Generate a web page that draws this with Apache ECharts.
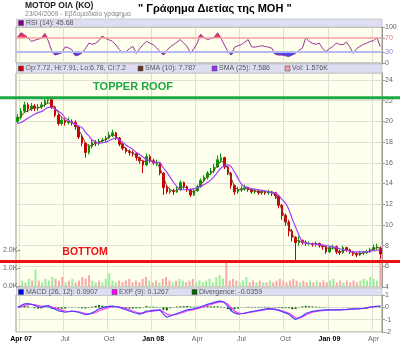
<!DOCTYPE html>
<html><head><meta charset="utf-8">
<script src="https://cdn.jsdelivr.net/npm/echarts@6/dist/echarts.min.js"></script>
<style>html,body{margin:0;padding:0;background:#fff}#c{width:400px;height:351px}</style>
</head><body><div id="c"></div>
<script>
// ---- data ----
const startDate = '2007-03-26';   // first weekly bar (Monday)
const nWeeks = 108;
const quarterIdx = [1, 14, 27, 40, 53, 66, 79, 92, 105];
const quarterText = ['Apr 07', 'Jul', 'Oct', 'Jan 08', 'Apr', 'Jul', 'Oct', 'Jan 09', 'Apr'];
const boldText = ['Apr 07', 'Jan 08', 'Jan 09'];
const priceTicks = [4, 6, 8, 10, 12, 14, 16, 18, 20, 22, 24];
const rsiTicks = [0, 30, 70, 100];
const volTicks = [0, 1, 2];
const macdTicks = [-2, -1, 0, 1];
const roofPrice = 22.29;
const bottomPrice = 6.46;
// weekly candles: [open, close, low, high]
const candles = [
[20.0,20.4,19.8,20.7],[20.4,21.0,20.2,21.3],[21.0,21.6,20.8,21.9],[21.6,21.2,20.9,21.8],[21.2,21.5,21.0,21.8],
[21.5,21.3,21.0,21.7],[21.3,21.4,21.0,21.7],[21.4,21.6,21.2,21.9],[21.6,22.0,21.4,22.3],[22.0,22.1,21.7,22.4],
[22.1,21.4,21.2,22.2],[21.4,20.6,20.4,21.5],[20.6,19.8,19.6,20.8],[19.8,20.1,19.6,20.4],[20.1,19.9,19.6,20.3],
[19.9,20.0,19.7,20.4],[20.0,19.9,19.6,20.2],[19.9,19.5,19.2,20.1],[19.5,18.5,18.3,19.6],[18.5,17.9,17.6,18.7],
[17.9,17.0,16.5,18.0],[17.0,17.6,16.8,17.8],[17.6,18.0,17.4,18.3],[18.0,17.9,17.6,18.2],[17.9,18.1,17.7,18.3],
[18.1,18.2,17.9,18.4],[18.2,18.4,18.0,18.6],[18.4,18.7,18.3,19.0],[18.7,18.9,18.5,19.2],[18.9,18.4,18.2,19.0],
[18.4,17.8,17.6,18.5],[17.8,17.4,17.2,17.9],[17.4,17.1,16.9,17.5],[17.1,17.0,16.7,17.3],[17.0,16.9,16.6,17.2],
[16.9,16.5,16.2,17.0],[16.5,16.2,15.9,16.6],[16.2,15.8,15.0,16.3],[15.8,16.6,15.7,16.9],[16.6,16.2,16.0,16.8],
[16.2,16.0,15.8,16.4],[16.0,16.0,15.7,16.3],[16.0,15.0,14.8,16.1],[15.0,13.6,12.9,15.1],[13.6,13.2,13.0,13.8],
[13.2,13.3,13.0,13.6],[13.3,13.2,12.9,13.5],[13.2,13.4,13.1,13.7],[13.4,14.1,13.3,14.3],[14.1,13.7,13.5,14.2],
[13.7,13.4,13.2,13.8],[13.4,12.9,12.7,13.5],[12.9,13.3,12.8,13.5],[13.3,13.7,13.2,13.9],[13.7,14.3,13.6,14.5],
[14.3,14.6,14.1,14.8],[14.6,15.0,14.4,15.2],[15.0,15.2,14.8,15.5],[15.2,15.6,15.0,15.9],[15.6,16.3,15.5,16.7],
[16.3,16.5,16.0,16.9],[16.5,15.6,15.4,16.6],[15.6,15.0,14.8,15.7],[15.0,13.8,13.5,15.1],[13.8,13.2,12.9,13.9],
[13.2,13.4,13.0,13.7],[13.4,13.5,13.2,13.8],[13.5,13.6,13.3,13.9],[13.6,13.4,13.2,13.7],[13.4,13.2,13.0,13.5],
[13.2,13.3,13.0,13.5],[13.3,13.1,12.9,13.4],[13.1,13.2,12.9,13.4],[13.2,13.1,12.9,13.3],[13.1,13.2,12.9,13.4],
[13.2,13.1,12.8,13.3],[13.1,12.8,12.5,13.2],[12.8,11.9,11.6,12.9],[11.9,10.9,10.5,12.0],[10.9,10.3,9.9,11.1],
[10.3,9.4,8.9,10.5],[9.4,8.8,8.4,9.6],[8.8,8.3,6.6,8.9],[8.3,8.5,8.0,8.9],[8.5,8.3,8.1,8.6],
[8.3,8.2,8.0,8.5],[8.2,8.2,8.0,8.4],[8.2,8.1,7.9,8.3],[8.1,8.2,7.9,8.4],[8.2,8.0,7.8,8.3],
[8.0,7.9,7.6,8.1],[7.9,7.4,7.2,8.0],[7.4,7.8,7.3,8.0],[7.8,7.9,7.6,8.1],[7.9,7.4,7.2,8.0],
[7.4,7.3,7.1,7.6],[7.3,7.8,7.2,8.0],[7.8,7.6,7.4,7.9],[7.6,7.4,7.2,7.7],[7.4,7.2,7.0,7.5],
[7.2,7.1,6.9,7.4],[7.1,7.3,7.0,7.5],[7.3,7.3,7.1,7.5],[7.3,7.4,7.2,7.6],[7.4,7.6,7.3,7.8],
[7.6,7.8,7.5,8.1],[7.8,7.9,7.6,8.2],[7.72,7.2,6.78,7.91]
];
const volume = [
0.3,0.2,0.4,0.3,0.9,0.3,0.2,0.4,0.3,0.5, 0.4,0.3,0.5,0.2,0.3,0.4,0.2,0.3,0.5,0.4,
0.6,0.3,0.2,0.3,0.2,0.4,0.7,0.3,0.2,0.3, 0.2,0.3,0.4,0.2,0.3,0.2,0.4,0.5,0.3,0.2,
0.3,0.2,0.4,0.5,0.3,0.2,0.3,0.4,0.3,0.2, 0.3,0.4,0.2,0.3,0.2,0.3,0.4,0.2,0.5,0.6,
0.4,1.3,0.3,0.4,0.3,0.2,0.3,0.5,0.2,0.3, 0.2,0.3,0.2,0.2,0.3,0.2,0.3,0.4,0.3,0.2,
0.3,0.4,0.3,0.2,0.3,0.2,0.3,0.2,0.3,0.2, 0.3,0.2,0.3,0.4,0.2,0.3,0.2,0.3,0.2,0.3,
0.2,0.3,0.4,0.3,0.5,0.4,0.3,1.576
];
const sma10 = [
20.2,20.5,20.9,21.0,21.2,21.3,21.3,21.4,21.6,21.8, 21.7,21.3,20.8,20.4,20.1,20.0,19.9,19.7,19.2,18.6,
17.9,17.6,17.7,17.9,18.0,18.1,18.3,18.5,18.7,18.6, 18.2,17.7,17.3,17.1,16.9,16.7,16.4,16.1,16.2,16.3,
16.1,16.0,15.5,14.6,13.8,13.4,13.3,13.3,13.6,13.7, 13.5,13.2,13.2,13.5,13.9,14.3,14.7,15.0,15.3,15.8,
16.2,16.0,15.4,14.5,13.7,13.4,13.4,13.5,13.5,13.3, 13.3,13.2,13.2,13.2,13.2,13.1,12.9,12.3,11.4,10.6,
9.8,9.1,8.6,8.4,8.4,8.3,8.2,8.2,8.2,8.1, 8.0,7.8,7.7,7.8,7.6,7.4,7.5,7.6,7.5,7.3,
7.2,7.2,7.3,7.4,7.5,7.7,7.8,7.787
];
const sma25 = [
19.8,19.9,20.1,20.3,20.5,20.7,20.85,20.95,21.15,21.35, 21.35,21.2,21.0,20.75,20.35,20.1,19.9,19.7,19.55,19.4,
18.95,18.6,18.2,18.0,17.9,17.95,18.0,18.15,18.3,18.4, 18.2,18.0,17.7,17.5,17.3,17.0,16.8,16.55,16.3,16.2,
16.1,16.05,16.0,15.5,15.1,14.6,14.1,13.7,13.4,13.4, 13.4,13.45,13.5,13.6,13.7,13.9,14.1,14.35,14.7,15.1,
15.5,15.7,15.8,15.6,15.1,14.5,13.95,13.7,13.6,13.5, 13.45,13.4,13.35,13.3,13.2,13.15,13.05,12.85,12.45,12.1,
11.5,10.6,9.8,9.0,8.35,8.25,8.2,8.2,8.15,8.1, 8.05,8.0,7.95,7.85,7.8,7.7,7.6,7.55,7.45,7.4,
7.4,7.4,7.4,7.42,7.45,7.5,7.55,7.586
];
const rsi = [
72,84,78,70,60,63,66,69,82,62, 35,22,25,28,45,42,37,20,22,28,
40,55,52,55,62,75,68,64,60,50, 37,28,32,40,46,27,40,51,60,55,
51,42,32,22,35,45,51,58,65,55, 46,27,40,55,80,70,65,68,72,84,
68,50,32,22,44,48,51,58,65,45, 44,46,48,46,44,41,24,22,22,20,
18,22,27,35,41,70,60,55,52,55, 40,32,40,46,55,52,51,58,45,27,
40,46,52,55,60,62,70,45.68
];
const macd = [
0.0,0.15,0.28,0.3,0.25,0.15,0.05,0.0,0.1,0.15, -0.05,-0.15,-0.28,-0.33,-0.4,-0.36,-0.3,-0.35,-0.4,-0.5,
-0.6,-0.55,-0.45,-0.3,-0.12,-0.05,0.03,0.08,0.1,0.05, 0.0,-0.1,-0.2,-0.3,-0.4,-0.48,-0.55,-0.45,-0.3,-0.28,
-0.25,-0.22,-0.2,-0.55,-0.8,-0.7,-0.6,-0.5,-0.4,-0.3, -0.2,-0.17,-0.12,-0.05,0.05,0.15,0.25,0.32,0.4,0.48,
0.5,0.38,0.1,-0.3,-0.45,-0.55,-0.52,-0.47,-0.4,-0.35, -0.3,-0.25,-0.2,-0.15,-0.1,-0.12,-0.18,-0.25,-0.35,-0.45,
-0.55,-0.8,-0.98,-0.85,-0.7,-0.5,-0.4,-0.33,-0.28,-0.25, -0.23,-0.21,-0.2,-0.2,-0.2,-0.2,-0.18,-0.17,-0.15,-0.13,
-0.12,-0.1,-0.08,-0.04,0.03,0.05,0.08,0.0907
];
const expSignal = [
0.0,0.05,0.15,0.22,0.25,0.22,0.15,0.08,0.08,0.1, 0.05,-0.05,-0.15,-0.22,-0.3,-0.34,-0.33,-0.33,-0.36,-0.42,
-0.5,-0.52,-0.5,-0.42,-0.3,-0.18,-0.08,0.0,0.05,0.05, 0.03,-0.03,-0.1,-0.2,-0.3,-0.4,-0.47,-0.47,-0.4,-0.33,
-0.3,-0.26,-0.23,-0.35,-0.55,-0.63,-0.62,-0.56,-0.48,-0.39, -0.3,-0.23,-0.17,-0.1,-0.02,0.07,0.16,0.24,0.32,0.4,
0.45,0.42,0.25,-0.05,-0.3,-0.45,-0.5,-0.49,-0.44,-0.39, -0.34,-0.29,-0.24,-0.19,-0.14,-0.13,-0.15,-0.2,-0.28,-0.38,
-0.48,-0.65,-0.85,-0.87,-0.78,-0.62,-0.49,-0.4,-0.33,-0.29, -0.26,-0.23,-0.21,-0.2,-0.2,-0.2,-0.19,-0.18,-0.16,-0.14,
-0.13,-0.11,-0.09,-0.06,-0.01,0.03,0.07,0.1267
];
const divergence = [
0,0.1,0.13,0.08,0,-0.07,-0.1,-0.08,0.02,0.05, -0.1,-0.1,-0.13,-0.11,-0.1,-0.02,0.03,-0.02,-0.04,-0.08,
-0.1,-0.03,0.05,0.12,0.18,0.13,0.11,0.08,0.05,0, -0.03,-0.07,-0.1,-0.1,-0.1,-0.08,-0.08,0.02,0.1,0.05,
0.05,0.04,0.03,-0.2,-0.25,-0.07,0.02,0.06,0.08,0.09, 0.1,0.06,0.05,0.05,0.07,0.08,0.09,0.08,0.08,0.08,
0.05,-0.04,-0.15,-0.25,-0.15,-0.1,-0.02,0.02,0.04,0.04, 0.04,0.04,0.04,0.04,0.04,0.01,-0.03,-0.05,-0.07,-0.07,
-0.07,-0.15,-0.13,0.02,0.08,0.12,0.09,0.07,0.05,0.04, 0.03,0.02,0.01,0,0,0,0.01,0.01,0.01,0.01,
0.01,0.01,0.01,0.02,0.04,0.02,0.01,-0.0359
];

// ---- chart ----
const weeks = [];
{ const d0 = new Date(startDate + 'T00:00:00Z');
  for (let i = 0; i < nWeeks; i++) { const d = new Date(d0.getTime() + i * 7 * 86400000); weeks.push(d.toISOString().slice(0, 10)); } }

const FONT = '"Liberation Sans", Arial, sans-serif';
const L = 16, R = 18, W = 400 - L - R;
const BG = '#ffffee', STRIP = '#dedef2', GRIDC = '#e0e0d8', AXC = '#999';
const isQ = (idx) => quarterIdx.indexOf(idx) >= 0;

function xAxis(gi, showLabel) {
  return {
    type: 'category', gridIndex: gi, data: weeks, boundaryGap: true,
    axisLine: { show: false }, axisTick: { show: false },
    axisLabel: {
      show: showLabel, interval: (i) => isQ(i), margin: 4,
      formatter: (v, i) => { const t = quarterText[quarterIdx.indexOf(i)] || ''; return boldText.indexOf(t) >= 0 ? '{b|' + t + '}' : t; },
      fontSize: 7, color: '#666', fontFamily: FONT,
      rich: { b: { fontWeight: 'bold', color: '#000', fontSize: 7, fontFamily: FONT } }
    },
    splitLine: { show: gi !== 2, interval: (i) => isQ(i), lineStyle: { color: GRIDC, width: 1 } }
  };
}

const chart = echarts.init(document.getElementById('c'), null, { renderer: 'canvas' });
const upC = '#009900', dnC = '#cc0000';
const option = {
  animation: false,
  backgroundColor: '#fff',
  grid: [
    { left: L, right: R, top: 27, height: 36, show: true, backgroundColor: BG, borderColor: AXC, borderWidth: 1 },
    { left: L, right: R, top: 73, height: 214, show: true, backgroundColor: BG, borderColor: AXC, borderWidth: 1 },
    { left: L, right: R, top: 250, height: 36, show: false },
    { left: L, right: R, top: 295, height: 37, show: true, backgroundColor: BG, borderColor: AXC, borderWidth: 1 }
  ],
  xAxis: [xAxis(0, false), xAxis(1, false), xAxis(2, false), xAxis(3, true)],
  yAxis: [
    { type: 'value', gridIndex: 0, position: 'right', min: 0, max: 100,
      axisLine: { show: true, lineStyle: { color: AXC } },
      axisTick: { show: true, length: 3, customValues: rsiTicks, lineStyle: { color: AXC } },
      axisLabel: { customValues: rsiTicks, fontSize: 7, fontFamily: FONT, margin: 3,
        color: (v) => (+v === 70 ? '#f07070' : (+v === 30 ? '#8080f0' : '#666')) },
      splitLine: { show: false } },
    { type: 'value', gridIndex: 1, position: 'right', min: 4, max: 24.68, interval: 2,
      axisLine: { show: true, lineStyle: { color: AXC } },
      axisTick: { show: true, length: 3, lineStyle: { color: AXC } },
      axisLabel: { showMaxLabel: false, fontSize: 7, fontFamily: FONT, color: '#666', margin: 3,
        formatter: (v) => (priceTicks.indexOf(+v) >= 0 ? String(v) : '') },
      splitLine: { show: true, lineStyle: { color: GRIDC } } },
    { type: 'value', gridIndex: 2, position: 'left', min: 0, max: 2, interval: 1,
      axisLine: { show: false }, axisTick: { show: true, length: 3, lineStyle: { color: AXC } },
      axisLabel: { fontSize: 7, fontFamily: FONT, color: '#666', margin: 3,
        formatter: (v) => (volTicks.indexOf(+v) >= 0 ? (+v).toFixed(1) + 'K' : '') },
      splitLine: { show: false } },
    { type: 'value', gridIndex: 3, position: 'right', min: -2, max: 1, interval: 1,
      axisLine: { show: true, lineStyle: { color: AXC } },
      axisTick: { show: true, length: 3, lineStyle: { color: AXC } },
      axisLabel: { fontSize: 7, fontFamily: FONT, color: '#666', margin: 3,
        formatter: (v) => (macdTicks.indexOf(+v) >= 0 ? String(v) : '') },
      splitLine: { show: true, lineStyle: { color: GRIDC } } }
  ],
  series: [
    { type: 'line', xAxisIndex: 0, yAxisIndex: 0, data: rsi.map(v => Math.max(v, 70)), symbol: 'none',
      lineStyle: { width: 0 }, areaStyle: { origin: 70, color: '#ee2244', opacity: 0.9 }, silent: true, z: 2 },
    { type: 'line', xAxisIndex: 0, yAxisIndex: 0, data: rsi.map(v => Math.min(v, 30)), symbol: 'none',
      lineStyle: { width: 0 }, areaStyle: { origin: 30, color: '#3333ee', opacity: 0.9 }, silent: true, z: 2 },
    { type: 'line', xAxisIndex: 0, yAxisIndex: 0, data: rsi, symbol: 'none',
      lineStyle: { color: '#993399', width: 1 }, z: 4,
      markLine: { silent: true, symbol: 'none', label: { show: false }, animation: false,
        data: [ { yAxis: 70, lineStyle: { color: '#f4a0a0', width: 1.5, type: 'solid' } },
                { yAxis: 30, lineStyle: { color: '#b8b8f2', width: 2, type: 'solid' } } ] } },
    { type: 'candlestick', xAxisIndex: 1, yAxisIndex: 1, data: candles, barWidth: 2,
      itemStyle: { color: upC, color0: dnC, borderColor: upC, borderColor0: dnC, borderWidth: 1 }, z: 3 },
    { type: 'line', xAxisIndex: 1, yAxisIndex: 1, data: sma10, symbol: 'none',
      lineStyle: { color: '#7a4030', width: 1 }, z: 4 },
    { type: 'line', xAxisIndex: 1, yAxisIndex: 1, data: sma25, symbol: 'none', smooth: 0.3,
      lineStyle: { color: '#a040ff', width: 1.2 }, z: 4 },
    { type: 'bar', xAxisIndex: 2, yAxisIndex: 2, data: volume, barWidth: 2,
      itemStyle: { color: (p) => (candles[p.dataIndex][1] >= candles[p.dataIndex][0] ? '#99ee99' : '#f7a8a8') }, z: 2 },
    { type: 'bar', xAxisIndex: 3, yAxisIndex: 3, data: divergence, barWidth: 2,
      itemStyle: { color: '#006600' }, z: 2 },
    { type: 'line', xAxisIndex: 3, yAxisIndex: 3, data: expSignal, symbol: 'none',
      lineStyle: { color: '#ff33ff', width: 1.2 }, z: 3 },
    { type: 'line', xAxisIndex: 3, yAxisIndex: 3, data: macd, symbol: 'none',
      lineStyle: { color: '#4444ff', width: 1.2 }, z: 4 }
  ]
};
chart.setOption(option);

const roofY = chart.convertToPixel({ yAxisIndex: 1 }, roofPrice);
const botY = chart.convertToPixel({ yAxisIndex: 1 }, bottomPrice);
function txt(x, y, text, o) {
  return Object.assign({ type: 'text', x: x, y: y, z: 100,
    style: Object.assign({ text: text, fill: '#555', font: '7px ' + FONT, textVerticalAlign: 'middle', verticalAlign: 'middle' }, o || {}) });
}
function sq(x, y, color) {
  return { type: 'rect', z: 100, shape: { x: x, y: y - 2.5, width: 5, height: 5 }, style: { fill: color, stroke: '#444', lineWidth: 0.5 } };
}
function strip(y, h) {
  return { type: 'rect', z: 90, shape: { x: L + 0.5, y: y, width: W - 0.5, height: h }, style: { fill: STRIP, stroke: '#aaa', lineWidth: 0.5 } };
}
const g = [
  txt(25, 6, 'ΜΟΤΟΡ ΟΙΛ (ΚΟ)', { fill: '#222', font: 'bold 8.5px ' + FONT }),
  txt(25, 14.5, '23/04/2009 - Εβδομαδιαίο γράφημα', { fill: '#888', font: '6.7px ' + FONT }),
  txt(138, 8.5, '" Γράφημα Διετίας της ΜΟΗ "', { fill: '#000', font: 'bold 11px ' + FONT }),
  strip(19, 8), strip(64, 9), strip(288, 7.5),
  sq(18.5, 23, '#800080'), txt(26, 23, 'RSI (14): 45.68'),
  sq(18.5, 68.5, '#cc0000'), txt(25.5, 68.5, 'Op:7.72, Hi:7.91, Lo:6.78, Cl:7.2'),
  sq(138, 68.5, '#663322'), txt(145, 68.5, 'SMA (10): 7.787'),
  sq(212, 68.5, '#9933ff'), txt(219, 68.5, 'SMA (25): 7.586'),
  sq(285, 68.5, '#f0a0a0'), txt(292, 68.5, 'Vol: 1.576K'),
  sq(18.5, 292, '#0000ff'), txt(26, 292, 'MACD (26, 12): 0.0907'),
  sq(112, 292, '#ff00ff'), txt(119, 292, 'EXP (9): 0.1267'),
  sq(192, 292, '#006600'), txt(199, 292, 'Divergence: -0.0359'),
  { type: 'line', z: 110, shape: { x1: 0, y1: roofY, x2: 400, y2: roofY }, style: { stroke: '#1fa843', lineWidth: 3 } },
  { type: 'line', z: 110, shape: { x1: 0, y1: botY, x2: 400, y2: botY }, style: { stroke: '#ee1111', lineWidth: 3 } },
  txt(133, roofY - 10.5, 'TOPPER ROOF', { fill: '#1fa843', font: 'bold 11px ' + FONT, textAlign: 'center', align: 'center' }),
  txt(85, botY - 9, 'BOTTOM', { fill: '#ee1111', font: 'bold 10.5px ' + FONT, textAlign: 'center', align: 'center' })
];
chart.setOption({ graphic: g });
</script></body></html>
